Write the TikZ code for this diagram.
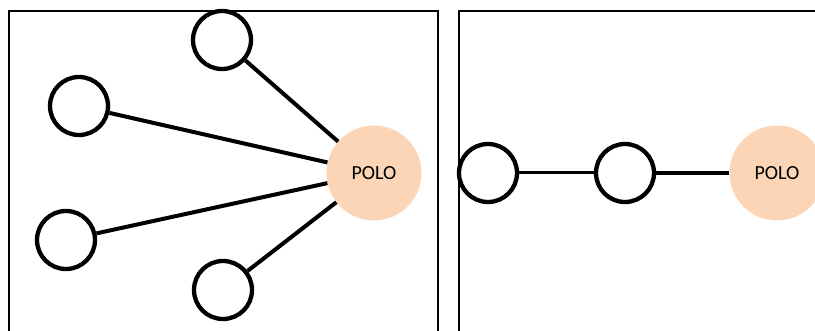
\documentclass[tikz,border=0pt]{standalone}
\usepackage{fontspec}
\setmainfont{Carlito}
\usetikzlibrary{shapes.geometric}
\definecolor{peach}{HTML}{FBD5B5}
\newcommand\ringsize{58pt}
\newcommand\polosize{95pt}
\tikzstyle{frame} = [draw=black, line width=1.3pt]
\tikzstyle{ring} = [circle, minimum size=\ringsize, inner sep=0pt, draw=black, line width=4.3pt, fill=white]
\tikzstyle{polo} = [circle, minimum size=\polosize, inner sep=0pt, fill=peach, font=\fontsize{20}{24}\selectfont]
\tikzstyle{link} = [line width=4pt]
\tikzstyle{thinlink} = [line width=3pt]

\begin{document}
\begin{tikzpicture}[x=1pt, y=-1pt, node distance=137pt]

            \useasboundingbox (0,0) rectangle (815,331);
            \clip (0,0) rectangle (815,331);

            % left panel
            \draw [frame] (9,11) rectangle (438,345);
            \node (hub) [polo] at (374,173) {POLO};
            \node (top) [ring] at (222,40) {};
            \node (upper) [ring] at (79,106) {};
            \node (lower) [ring] at (66,240) {};
            \node (bottom) [ring] at (223,290) {};

            \draw [link] (top) -- (hub);
            \draw [link] (upper) -- (hub);
            \draw [link] (lower) -- (hub);
            \draw [link] (bottom) -- (hub);

            % right panel
            \draw [frame] (459,11) rectangle (840,345);
            \node (first) [ring] at (488,173) {};
            \node (second) [ring, right of=first] {};
            \node (end) [polo, right of=second, xshift=15pt] {POLO};

            \draw [thinlink] (first) -- (second);
            \draw [link] (second) -- (end);

        \end{tikzpicture}
\end{document}
